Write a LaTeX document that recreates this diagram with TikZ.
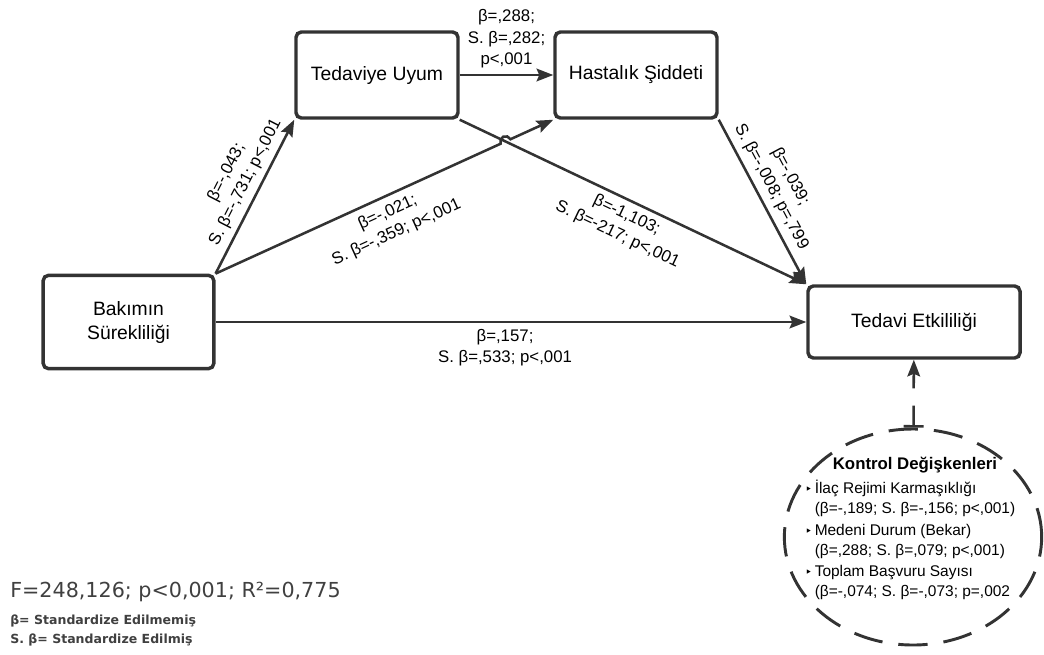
\documentclass[tikz,border=0pt]{standalone}
\usepackage{fontspec}
\setmainfont{Liberation Sans}
\newfontfamily\legendfont{DejaVu Sans}
\newfontfamily\symfont{DejaVu Sans}
\usetikzlibrary{arrows.meta,positioning,shapes.geometric,calc,intersections}
\definecolor{darkline}{RGB}{51,51,51}
\definecolor{legendgray}{RGB}{64,64,64}
\tikzset{
  varbox/.style={rectangle, rounded corners=4pt, draw=darkline, line width=2.6pt, fill=white,
                 align=center, font=\fontsize{14.5}{18}\selectfont, inner sep=0pt},
  arrow/.style={-{Stealth[length=12.5pt, width=9.5pt, inset=2pt]}, line width=1.9pt, darkline},
  coef/.style={font=\fontsize{12.6}{16}\selectfont, align=center, text=black},
  ctrlshape/.style={ellipse, draw=darkline, line width=2.2pt, dash pattern=on 22pt off 12pt,
                    minimum width=193pt, minimum height=162pt, inner sep=0pt},
  ctrlarrow/.style={{Bar[width=15pt]}-{Stealth[length=12.5pt, width=9.5pt, inset=2pt]},
                    line width=1.9pt, darkline, dash pattern=on 15pt off 13pt},
  itemtext/.style={font=\fontsize{11.6}{15}\selectfont, align=left, inner sep=0pt},
  legend/.style={anchor=west, inner sep=0pt, text=legendgray},
}
\newcommand{\ctrlitem}{\llap{{\symfont\fontsize{9}{9}\selectfont ‣}\,}}

\begin{document}
\begin{tikzpicture}[x=0.75pt, y=-0.75pt]
\useasboundingbox (0,0) rectangle (1044,654);
% variables
\node[varbox, minimum width=121.5pt, minimum height=64.5pt] (ted) at (377,75) {Tedaviye Uyum};
\node[varbox, minimum width=121.5pt, minimum height=64.5pt] (has) at (636,75) {Hastalık Şiddeti};
\node[varbox, minimum width=128pt, minimum height=70pt] (bak) at (128.5,322) {Bakımın\\Sürekliliği};
\node[varbox, minimum width=159pt, minimum height=54pt] (eff) at (914,322) {Tedavi Etkililiği};

% paths
\draw[arrow] (ted) -- node[coef, above=1pt] {β=,288;\\S. β=,282;\\p<,001} (has);
\draw[arrow] (bak.north east) -- node[coef, above=1pt, sloped, pos=0.55] {β=-,043;\\S. β=-,731; p<,001} (ted.south west);
\draw[arrow] (ted.south east) -- node[coef, below=1pt, sloped, pos=0.5] {β=-1,103;\\S. β=-217; p<,001} (eff.north west);
\draw[arrow] (has.south east) -- node[coef, above=1pt, sloped, pos=0.45] {β=-,039;\\S. β=-,008; p=,799} (eff.north west);
\draw[arrow] (bak) -- node[coef, below=1pt, pos=0.49] {β=,157;\\S. β=,533; p<,001} (eff);

% crossing with a hop
\path[name path=hopa] (bak.north east) -- (has.south west);
\path[name path=hopb] (ted.south east) -- (eff.north west);
\path[name intersections={of=hopa and hopb, by=hop}];
\draw[arrow] let \p1=($(has.south west)-(bak.north east)$), \n1={atan2(\y1,\x1)} in
  (bak.north east) -- node[coef, below=2pt, sloped, pos=0.58] {β=-,021;\\S. β=-,359; p<,001} ($(hop)!4pt!(bak.north east)$)
  arc[start angle=\n1+180, end angle=\n1, radius=4pt] -- (has.south west);

% control variables
\node[ctrlshape] (ctrl) at (913,537) {};
\node[itemtext] (ctrllist) at (915,540) {%
  \ctrlitem İlaç Rejimi Karmaşıklığı\\
  (β=-,189; S. β=-,156; p<,001)\\[1pt]
  \ctrlitem Medeni Durum (Bekar)\\
  (β=,288; S. β=,079; p<,001)\\[1pt]
  \ctrlitem Toplam Başvuru Sayısı\\
  (β=-,074; S. β=-,073; p=,002};
\node[font=\fontsize{12.6}{14}\selectfont\bfseries, above=2pt of ctrllist] (ctrltitle) {Kontrol Değişkenleri};
\draw[ctrlarrow] (ctrl) -- (eff);

% model fit and legend
\node[legend, font=\legendfont\fontsize{15.5}{18}\selectfont] (fit) at (10,592) {F=248,126; p<0,001; R²=0,775};
\node[legend, font=\legendfont\bfseries\fontsize{9.4}{11}\selectfont] (leg1) at (10,621) {β= Standardize Edilmemiş};
\node[legend, font=\legendfont\bfseries\fontsize{9.4}{11}\selectfont] (leg2) at (10,640) {S. β= Standardize Edilmiş};
\end{tikzpicture}
\end{document}
